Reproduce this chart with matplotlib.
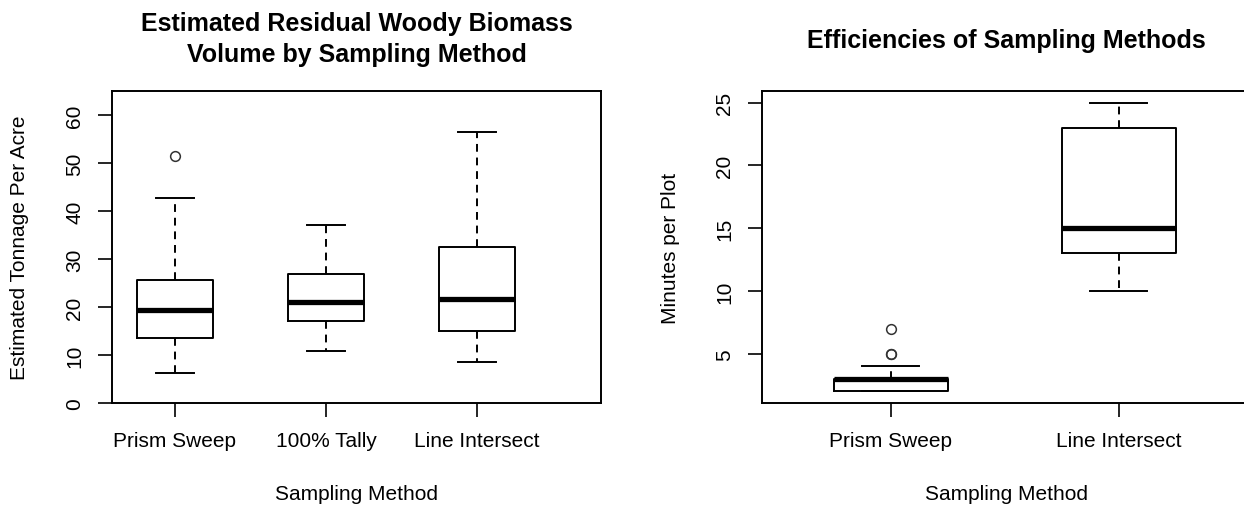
import matplotlib
matplotlib.use("Agg")
import matplotlib.pyplot as plt

plt.rcParams['font.family'] = ['Liberation Sans', 'DejaVu Sans']

# left panel: estimated tonnage per acre
left_names = ["Prism Sweep", "100% Tally", "Line Intersect"]
left_low = [6.3, 10.9, 8.6]
left_q1 = [13.6, 17.0, 15.1]
left_med = [19.3, 21.1, 21.7]
left_q3 = [25.6, 26.8, 32.4]
left_high = [42.8, 37.1, 56.4]
left_out = [[51.4], [], []]

# right panel: minutes per plot
right_names = ["Prism Sweep", "Line Intersect"]
right_low = [2, 10]
right_q1 = [2, 13]
right_med = [3, 15]
right_q3 = [3, 23]
right_high = [4, 25]
right_out = [[5, 5, 7], []]

FS = 15
TFS = 18


def make_stats(names, low, q1, med, q3, high, out):
    stats = []
    for i in range(len(names)):
        stats.append({'label': names[i], 'whislo': low[i], 'q1': q1[i],
                      'med': med[i], 'q3': q3[i], 'whishi': high[i],
                      'fliers': out[i]})
    return stats


def draw(ax, stats, xlim, ylim, yticks):
    n = len(stats)
    ax.bxp(stats, positions=range(1, n + 1), widths=0.5, capwidths=0.25,
           showfliers=True,
           boxprops=dict(color='black', linewidth=1.4),
           medianprops=dict(color='black', linewidth=3.8, solid_capstyle='butt'),
           whiskerprops=dict(color='black', linewidth=1.4, linestyle=(0, (4, 3))),
           capprops=dict(color='black', linewidth=1.4),
           flierprops=dict(marker='o', markerfacecolor='none',
                           markeredgecolor='#333333', markersize=7,
                           markeredgewidth=1.1))
    ax.set_xlim(*xlim)
    ax.set_ylim(*ylim)
    ax.set_yticks(yticks)
    ax.set_yticklabels([str(t) for t in yticks])
    for sp in ax.spines.values():
        sp.set_linewidth(1.4)
    ax.tick_params(axis='both', length=10, width=1.2, labelsize=FS,
                   direction='out')
    ax.tick_params(axis='x', pad=10)
    ax.tick_params(axis='y', pad=10)
    for lbl in ax.get_yticklabels():
        lbl.set_rotation(90)
        lbl.set_va('center')
        lbl.set_ha('right')
    ax.set_xlabel("Sampling Method", fontsize=FS, va='center')
    ax.xaxis.set_label_coords(0.5, -91 / 312)


fig = plt.figure(figsize=(12.44, 5.06), dpi=100)
ax1 = fig.add_axes([112 / 1244, 102 / 506, 489 / 1244, 312 / 506])
ax2 = fig.add_axes([762 / 1244, 102 / 506, 489 / 1244, 312 / 506])

draw(ax1, make_stats(left_names, left_low, left_q1, left_med, left_q3,
                     left_high, left_out),
     (0.583, 3.82), (0, 65), [0, 10, 20, 30, 40, 50, 60])
ax1.set_ylabel("Estimated Tonnage Per Acre", fontsize=FS, va='center')
ax1.yaxis.set_label_coords(-92 / 489, 0.5)
ax1.text(0.5, 1 + 61 / 312, "Estimated Residual Woody Biomass", transform=ax1.transAxes,
         ha='center', va='baseline', fontsize=TFS, fontweight='bold')
ax1.text(0.5, 1 + 30 / 312, "Volume by Sampling Method", transform=ax1.transAxes,
         ha='center', va='baseline', fontsize=TFS, fontweight='bold')

draw(ax2, make_stats(right_names, right_low, right_q1, right_med, right_q3,
                     right_high, right_out),
     (0.434, 2.58), (1.08, 25.92), [5, 10, 15, 20, 25])
ax2.set_ylabel("Minutes per Plot", fontsize=FS, va='center')
ax2.yaxis.set_label_coords(-91 / 489, 0.5)
ax2.text(0.5, 1 + 44 / 312, "Efficiencies of Sampling Methods", transform=ax2.transAxes,
         ha='center', va='baseline', fontsize=TFS, fontweight='bold')

fig.savefig("out.png", dpi=100)
